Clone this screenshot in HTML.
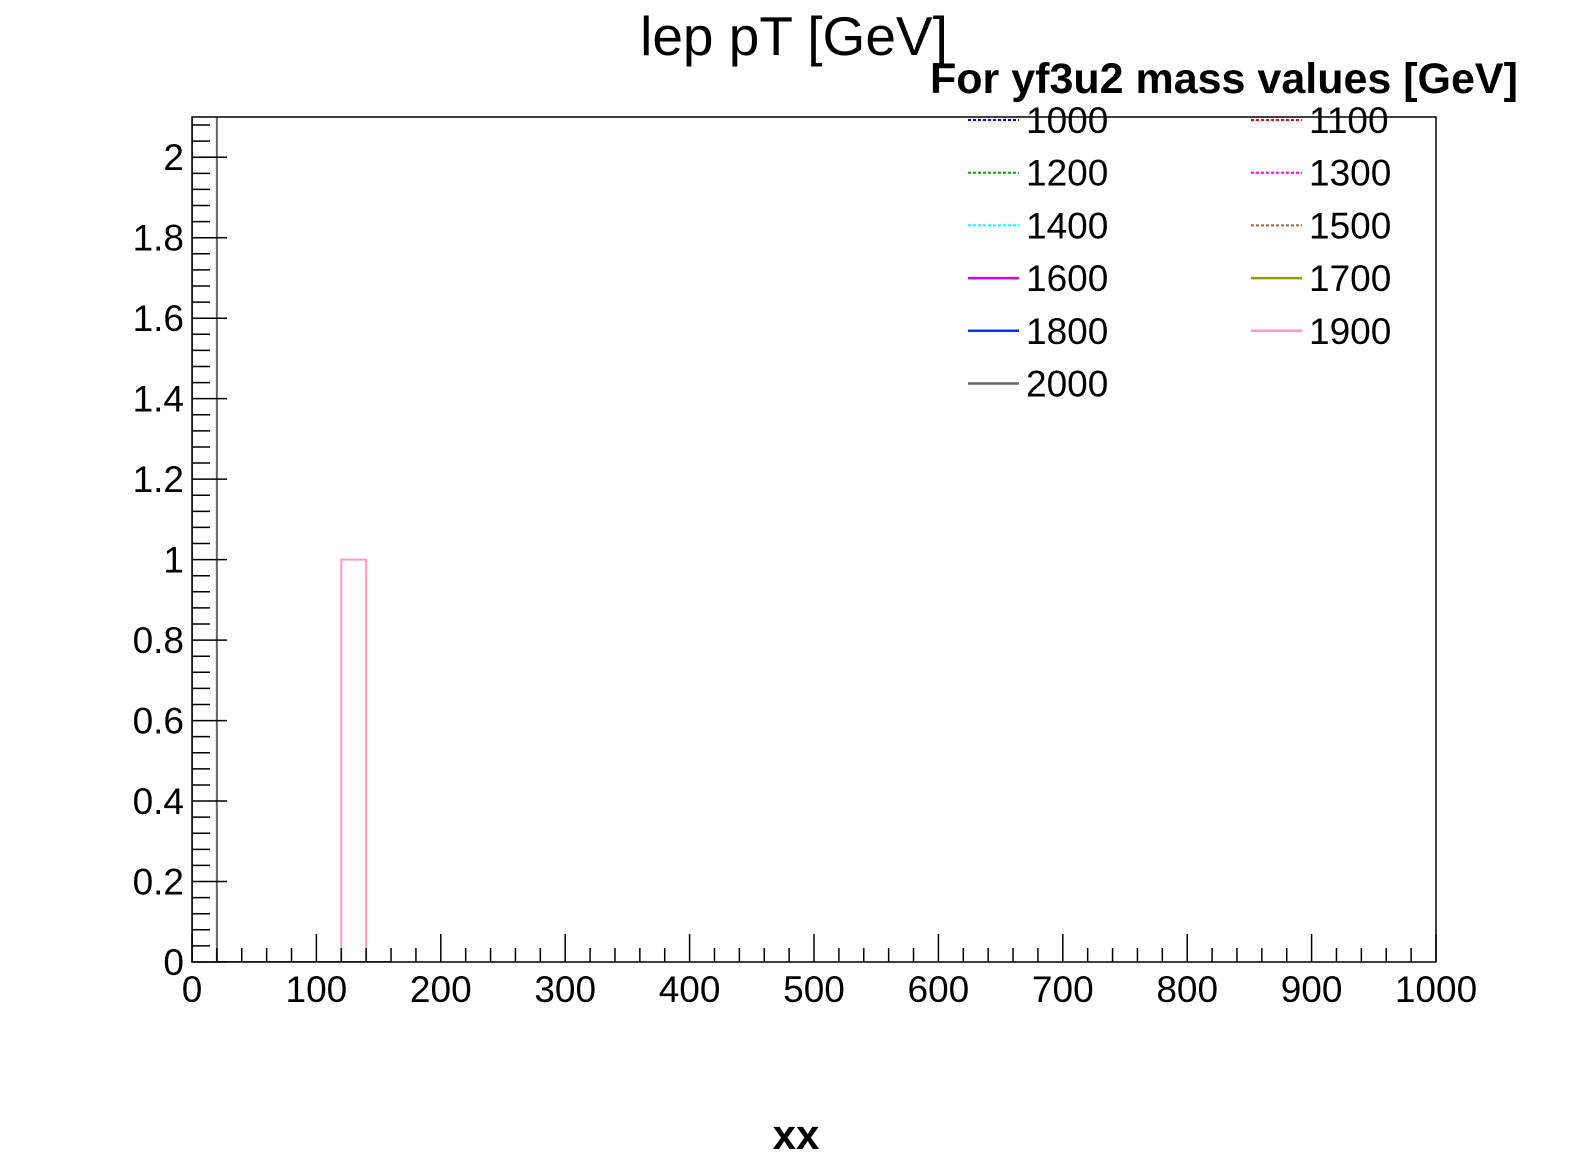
<!DOCTYPE html>
<html><head><meta charset="utf-8"><style>
html,body{margin:0;padding:0;background:#fff;}
svg{display:block;font-family:"Liberation Sans",Arial,sans-serif;}
</style></head><body>
<svg id="chart" width="1596" height="1172" viewBox="0 0 1596 1172">
<rect width="1596" height="1172" fill="#fff"/>
<text x="794" y="55" font-size="55" text-anchor="middle">lep pT [GeV]</text>
<text x="796" y="1149" font-size="42" font-weight="bold" text-anchor="middle">xx</text>
<g id="plot"></g>
<g id="legend"></g>
</svg>
<script>
const xTicks = [0,100,200,300,400,500,600,700,800,900,1000];
const yTicks = [0,0.2,0.4,0.6,0.8,1,1.2,1.4,1.6,1.8,2];
const yTickLabels = ["0","0.2","0.4","0.6","0.8","1","1.2","1.4","1.6","1.8","2"];
const binEdges = [0,20,40,60,80,100,120,140,160];
const gray2000 = [5,0,0,0,0,0,0,0];
const pink1900 = [2,0,0,0,0,0,1,0];
const legendLabels = ["1000","1100","1200","1300","1400","1500","1600","1700","1800","1900","2000"];
const legendColors = ["#0000ff","#ff0000","#00aa00","#ff00ff","#00ffff","#99663d","#cc00ff","#999900","#0033ff","#ff99cc","#666666"];
const legendDashed = [true,true,true,true,true,true,false,false,false,false,false];

const L=192,R=1436,T=117,B=962,XMIN=0,XMAX=1000,YMIN=0,YMAX=2.1;
const sx=v=>L+(v-XMIN)/(XMAX-XMIN)*(R-L);
const sy=v=>B-(v-YMIN)/(YMAX-YMIN)*(B-T);
const NS="http://www.w3.org/2000/svg";
const plot=document.getElementById('plot');
function mk(tag,attrs,parent){const e=document.createElementNS(NS,tag);for(const k in attrs)e.setAttribute(k,attrs[k]);(parent||plot).appendChild(e);return e;}

const defs=mk('defs',{});
const cp=mk('clipPath',{id:'clip'},defs);
mk('rect',{x:L,y:T,width:R-L,height:B-T},cp);

function hist(vals,color,name){
  let d='M'+sx(binEdges[0])+','+sy(0);
  for(let i=0;i<vals.length;i++){
    d+=' L'+sx(binEdges[i])+','+sy(vals[i])+' L'+sx(binEdges[i+1])+','+sy(vals[i]);
  }
  d+=' L'+sx(binEdges[vals.length])+','+sy(0);
  const p=mk('path',{d:d,fill:'none',stroke:color,'stroke-width':2,'clip-path':'url(#clip)'});
  
  
}
hist(pink1900,'#ff99cc','histogram-1900');
hist(gray2000,'#666666','histogram-2000');

const fr=mk('rect',{x:L,y:T,width:R-L,height:B-T,fill:'none',stroke:'#000','stroke-width':1.5});



for(let v=0;v<=1000;v+=20){
  const major=(v%100===0);
  const t=mk('line',{x1:sx(v),x2:sx(v),y1:B,y2:B-(major?28:14),stroke:'#000','stroke-width':1.5});
  
  
}
xTicks.forEach(v=>{
  const t=mk('text',{x:sx(v),y:B+40,'font-size':37,'text-anchor':'middle'});
  t.textContent=String(v);
  
  
});
for(let i=0;i<=52;i++){
  const v=i*0.04;
  if(v>YMAX)break;
  const major=(i%5===0);
  const t=mk('line',{x1:L,x2:L+(major?35:18),y1:sy(v),y2:sy(v),stroke:'#000','stroke-width':1.5});
  
  
}
yTicks.forEach((v,i)=>{
  const t=mk('text',{x:184,y:sy(v)+13,'font-size':37,'text-anchor':'end'});
  t.textContent=yTickLabels[i];
  
  
});

const lg=document.getElementById('legend');
const lt=mk('text',{x:930,y:93,'font-size':43,'font-weight':'bold'},lg);
lt.textContent='For yf3u2 mass values [GeV]';


legendLabels.forEach((lab,i)=>{
  const col=i%2,row=Math.floor(i/2);
  const x0=col?1251:968, y0=120+row*52.7;
  const g=mk('g',{},lg);
  
  
  const a={x1:x0,x2:x0+51,y1:y0,y2:y0,stroke:legendColors[i],'stroke-width':legendDashed[i]?2:2.5};
  if(legendDashed[i])a['stroke-dasharray']='3,2';
  mk('line',a,g);
  const t=mk('text',{x:x0+58,y:y0+13,'font-size':37},g);
  t.textContent=lab;
});
</script>
</body></html>
